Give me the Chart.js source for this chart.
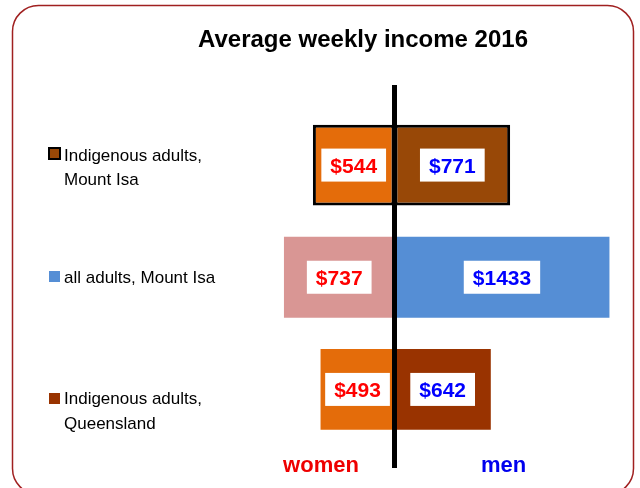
<!DOCTYPE html>
<html><head><meta charset="utf-8">
<script src="https://cdn.jsdelivr.net/npm/chart.js@4"></script>
<style>html,body{margin:0;padding:0;background:#fff}canvas{display:block}</style>
</head><body>
<canvas id="c" width="640" height="488"></canvas>
<script>
// ---- data ----
const categories = [["Indigenous adults,", "Mount Isa"], ["all adults, Mount Isa"], ["Indigenous adults,", "Queensland"]];
const women = [544, 737, 493];
const men = [771, 1433, 642];
const sideLabels = ["women", "men"];
const chartTitle = "Average weekly income 2016";

// ---- styles ----
const womenColors = ["#E46C0A", "#D99694", "#E46C0A"];
const menColors = ["#984807", "#558ED5", "#993300"];
const FONT = '"Liberation Sans", Arial, sans-serif';

const decor = {
  id: 'decor',
  beforeDraw(chart) {
    const ctx = chart.ctx;
    ctx.save(); ctx.fillStyle = '#fff'; ctx.fillRect(0, 0, chart.width, chart.height); ctx.restore();
  },
  afterDatasetsDraw(chart) {
    const ctx = chart.ctx, xs = chart.scales.x;
    const x0 = xs.getPixelForValue(0);
    ctx.save();
    // centre line
    ctx.fillStyle = '#000';
    ctx.fillRect(x0 - 2.5, 85, 5, 383);
    // value labels
    ctx.font = 'bold 21px ' + FONT;
    ctx.textAlign = 'center'; ctx.textBaseline = 'alphabetic';
    chart.data.datasets.forEach((ds, di) => {
      chart.getDatasetMeta(di).data.forEach((el, i) => {
        const txt = '$' + Math.abs(ds.data[i]);
        const cx = (el.x + el.base) / 2, cy = el.y;
        const w = ctx.measureText(txt).width + 18;
        ctx.fillStyle = '#fff';
        ctx.fillRect(cx - w / 2, cy - 16.5, w, 33);
        ctx.fillStyle = di === 0 ? '#FF0000' : '#0000FF';
        ctx.fillText(txt, cx, cy + 7.5);
      });
    });
    ctx.restore();
  },
  afterDraw(chart) {
    const ctx = chart.ctx;
    ctx.save();
    // frame
    ctx.strokeStyle = '#A02020'; ctx.lineWidth = 1.5;
    ctx.beginPath();
    ctx.roundRect(12.5, 5.5, 621, 489, 26);
    ctx.stroke();
    // title
    ctx.fillStyle = '#000';
    ctx.font = 'bold 24px ' + FONT;
    ctx.textAlign = 'center'; ctx.textBaseline = 'alphabetic';
    ctx.fillText(chartTitle, 363, 47);
    // legend
    const legendY = [[160.5, 185], [283], [404, 429]];
    const sqTop = [148, 271, 393];
    ctx.font = '17px ' + FONT;
    ctx.textAlign = 'left';
    categories.forEach((lines, i) => {
      ctx.fillStyle = menColors[i];
      ctx.fillRect(49, sqTop[i], 11, 11);
      if (i === 0) { ctx.strokeStyle = '#000'; ctx.lineWidth = 2; ctx.strokeRect(49, sqTop[i], 11, 11); }
      ctx.fillStyle = '#000';
      lines.forEach((t, k) => ctx.fillText(t, 64, legendY[i][k]));
    });
    // side labels
    ctx.font = 'bold 22px ' + FONT;
    ctx.textAlign = 'center';
    ctx.fillStyle = '#EE0000';
    ctx.fillText(sideLabels[0], 321, 472);
    ctx.fillStyle = '#0000EE';
    ctx.fillText(sideLabels[1], 503.5, 472);
    ctx.restore();
  }
};

new Chart(document.getElementById('c'), {
  type: 'bar',
  data: {
    labels: categories,
    datasets: [
      { label: sideLabels[0], data: women.map(v => -v), backgroundColor: womenColors,
        borderColor: '#000', borderWidth: [3, 0, 0], borderSkipped: false },
      { label: sideLabels[1], data: men, backgroundColor: menColors,
        borderColor: '#000', borderWidth: [3, 0, 0], borderSkipped: false }
    ]
  },
  options: {
    indexAxis: 'y',
    responsive: false,
    animation: false,
    layout: { padding: { left: 259.5, right: 20.5, top: 109, bottom: 42.5 } },
    datasets: { bar: { categoryPercentage: 1, barPercentage: 0.72 } },
    scales: {
      x: { display: false, stacked: true, min: -900, max: 1500 },
      y: { display: false, stacked: true }
    },
    plugins: { legend: { display: false }, title: { display: false }, tooltip: { enabled: false } }
  },
  plugins: [decor]
});
</script>
</body></html>
